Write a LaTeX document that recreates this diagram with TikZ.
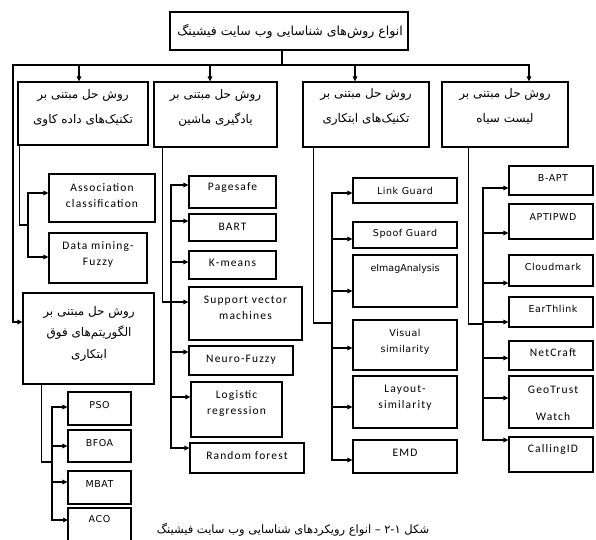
\documentclass[tikz,border=0pt]{standalone}
\usepackage{fontspec}
\setmainfont{DejaVu Sans}
\newfontfamily\arabicfont[Script=Arabic]{DejaVu Sans}
\newfontfamily\calfont[LetterSpace=10]{Carlito}
\newfontfamily\djfont[LetterSpace=6]{DejaVu Sans}
\TeXXeTstate=1
\usetikzlibrary{arrows.meta,fit}
\tikzset{
  box/.style={draw, line width=1.1pt, inner sep=0pt, fill=white},
  ln/.style={line width=1.2pt, line cap=rect},
  arr/.style={line width=1.2pt, -{Triangle[length=5pt,width=4.5pt]}},
  fa/.style={font=\arabicfont\fontsize{12}{25}\selectfont, align=center, inner sep=0pt},
  fae/.style={font=\arabicfont\fontsize{12}{21.5}\selectfont, align=center, inner sep=0pt},
  lt/.style={font=\calfont\fontsize{11.5}{16}\selectfont, align=center, inner sep=0pt},
  dj/.style={font=\djfont\fontsize{9.5}{16}\selectfont, align=center, inner sep=0pt}
}
\newcommand{\mybox}[5]{\node[box, fit={(#2,#3) (#4,#5)}] (#1) {};}
\begin{document}
\begin{tikzpicture}[x=1pt,y=-1pt]
\useasboundingbox (0,0) rectangle (596,539);
\clip (0,0) rectangle (596,539);
\fill[white] (0,0) rectangle (596,539);

% top
\mybox{top}{170}{12}{408}{50}
\node[fa, font=\arabicfont\fontsize{12.5}{14}\selectfont] (top-t) at (290,31) {\beginR انواع روش^^^^200cهای شناسایی وب سایت فیشینگ\endR};

% level 1
\mybox{A}{18}{82}{148}{145}
\mybox{B}{154}{82}{277}{147}
\mybox{C}{303}{82}{429}{147}
\mybox{D}{442}{82}{568}{147}
\mybox{E}{23}{293}{154}{384}
\node[fa] (A-t) at (83,107.5) {\beginR روش حل مبتنی بر\endR\\\beginR تکنیک^^^^200cهای داده کاوی\endR};
\node[fa] (B-t) at (215.5,107.5) {\beginR روش حل مبتنی بر\endR\\\beginR یادگیری ماشین\endR};
\node[fa] (C-t) at (366,106.5) {\beginR روش حل مبتنی بر\endR\\\beginR تکنیک^^^^200cهای ابتکاری\endR};
\node[fa] (D-t) at (505,106.5) {\beginR روش حل مبتنی بر\endR\\\beginR لیست سیاه\endR};
\node[fae] (E-t) at (89,333.5) {\beginR روش حل مبتنی بر\endR\\\beginR الگوریتم^^^^200cهای فوق\endR\\\beginR ابتکاری\endR};

% A children
\mybox{assoc}{49}{174}{155}{222}
\mybox{dmf}{49}{233}{147}{283}
\node[lt] (assoc-t) at (102,195.5) {Association\\classification};
\node[lt] (dmf-t) at (98,254) {Data mining-\\Fuzzy};

% B children
\mybox{pagesafe}{189}{176}{276}{208}
\mybox{bart}{189}{214}{276}{241}
\mybox{kmeans}{189}{251}{276}{279}
\mybox{svm}{189}{287}{302}{340}
\mybox{neuro}{189}{346}{293}{375}
\mybox{logistic}{191}{382}{282}{437}
\mybox{rf}{190}{443}{304}{473}
\node[lt] (pagesafe-t) at (232.5,188) {Pagesafe};
\node[lt] (bart-t) at (232.5,227) {BART};
\node[lt] (kmeans-t) at (232.5,263) {K-means};
\node[lt] (svm-t) at (245.5,308) {Support vector\\machines};
\node[lt] (neuro-t) at (241,360) {Neuro-Fuzzy};
\node[lt] (logistic-t) at (236.5,403.5) {Logistic\\regression};
\node[lt] (rf-t) at (247,456) {Random forest};

% C children
\mybox{linkg}{353}{178}{457}{203}
\mybox{spoof}{353}{222}{457}{248}
\mybox{eimag}{353}{255}{457}{307}
\mybox{visual}{353}{320}{457}{370}
\mybox{layout}{353}{376}{457}{428}
\mybox{emd}{353}{440}{457}{473}
\node[dj] (linkg-t) at (405,191) {Link Guard};
\node[dj] (spoof-t) at (405,234) {Spoof Guard};
\node[dj, font=\djfont\fontsize{9.5}{16}\selectfont\addfontfeature{LetterSpace=0}] (eimag-t) at (405,269) {eImagAnalysis};
\node[dj] (visual-t) at (405,341.5) {Visual\\similarity};
\node[lt] (layout-t) at (405,398) {Layout-\\similarity};
\node[lt] (emd-t) at (405,453) {EMD};

% D children
\mybox{bapt}{509}{166}{593}{195}
\mybox{aptipwd}{509}{204}{593}{239}
\mybox{cloud}{509}{255}{593}{286}
\mybox{earth}{509}{297}{593}{327}
\mybox{netcraft}{509}{341}{593}{370}
\mybox{geo}{509}{376}{593}{428}
\mybox{calling}{509}{437}{593}{472}
\node[dj] (bapt-t) at (553,178) {B-APT};
\node[dj] (aptipwd-t) at (553,217) {APTIPWD};
\node[dj] (cloud-t) at (553,267) {Cloudmark};
\node[dj] (earth-t) at (553,309) {EarThlink};
\node[lt] (netcraft-t) at (553,353) {NetCraft};
\node[lt, font=\calfont\fontsize{11.5}{27}\selectfont] (geo-t) at (553,403.5) {GeoTrust\\Watch};
\node[lt] (calling-t) at (553,449) {CallingID};

% E children
\mybox{pso}{68}{392}{131}{425}
\mybox{bfoa}{68}{430}{131}{462}
\mybox{mbat}{68}{471}{131}{504}
\mybox{aco}{68}{508}{131}{550}
\node[dj] (pso-t) at (99.5,405) {PSO};
\node[dj] (bfoa-t) at (99.5,443) {BFOA};
\node[dj] (mbat-t) at (99.5,484) {MBAT};
\node[dj] (aco-t) at (99.5,519) {ACO};

% caption
\node[font=\arabicfont\fontsize{11.5}{13}\selectfont, inner sep=0pt] (cap) at (293,530) {\beginR شکل \beginL ۲-۱\endL{} – انواع رویکردهای شناسایی وب سایت فیشینگ\endR};

% top connectors
\coordinate (barL) at (13,65);
\coordinate (barR) at (529,65);
\coordinate (tTop) at (282,65);
\coordinate (pA) at (79,65);
\coordinate (pB) at (210,65);
\coordinate (pC) at (355,65);
\draw[ln] (tTop |- top.south) -- (tTop);
\draw[ln] (barL) -- (barR);
\draw[arr] (pA) -- (pA |- A.north);
\draw[arr] (pB) -- (pB |- B.north);
\draw[arr] (pC) -- (pC |- C.north);
\draw[arr] (barR) -- (barR |- D.north);
\draw[arr] (barL) |- ([yshift=16.5pt]E.west);

% A connectors
\coordinate (jA) at (28,225);
\draw[ln] ([xshift=2pt]A.south west) |- (jA);
\draw[ln] ([yshift=5pt]assoc.west -| jA) -- ([yshift=1pt]dmf.west -| jA);
\draw[arr] ([yshift=5pt]assoc.west -| jA) -- ([yshift=5pt]assoc.west);
\draw[arr] ([yshift=1pt]dmf.west -| jA) -- ([yshift=1pt]dmf.west);

% B connectors
\coordinate (busB) at (171,0);
\coordinate (aPag) at ([yshift=7pt]pagesafe.west);
\coordinate (aBart) at ([yshift=6.5pt]bart.west);
\coordinate (aKm) at ([yshift=3pt]kmeans.west);
\coordinate (aSvm) at ([yshift=11.5pt]svm.west);
\coordinate (aNeu) at ([yshift=8.5pt]neuro.west);
\coordinate (aLog) at ([yshift=12.5pt]logistic.west);
\coordinate (aRf) at ([yshift=10pt]rf.west);
\draw[ln] (aPag -| busB) -- (aRf -| busB);
\draw[arr] ([xshift=9pt]B.south west) |- (aSvm);
\foreach \p in {aPag,aBart,aKm,aNeu,aLog,aRf}{\draw[arr] (\p -| busB) -- (\p);}

% C connectors
\coordinate (busC) at (332,0);
\coordinate (jC) at (332,323);
\coordinate (aLink) at ([yshift=-2.5pt]linkg.west);
\coordinate (aSpoof) at ([yshift=-4pt]spoof.west);
\coordinate (aEimag) at ([yshift=-10pt]eimag.west);
\coordinate (aVis) at ([yshift=-3pt]visual.west);
\coordinate (aLay) at ([yshift=-5pt]layout.west);
\coordinate (aEmd) at ([yshift=-3.5pt]emd.west);
\draw[ln] ([xshift=11pt]C.south west) |- (jC);
\draw[ln] (aLink -| busC) -- (aEmd -| busC);
\foreach \p in {aLink,aSpoof,aEimag,aVis,aLay,aEmd}{\draw[arr] (\p -| busC) -- (\p);}

% D connectors
\coordinate (busD) at (483,0);
\coordinate (jD) at (483,324);
\coordinate (aBapt) at ([yshift=-7.5pt]bapt.west);
\coordinate (aApt) at ([yshift=-11.5pt]aptipwd.west);
\coordinate (aCloud) at ([yshift=-12.5pt]cloud.west);
\coordinate (aEarth) at ([yshift=-10pt]earth.west);
\coordinate (aNet) at ([yshift=-2.5pt]netcraft.west);
\coordinate (aGeo) at ([yshift=4pt]geo.west);
\coordinate (aCall) at ([yshift=14.5pt]calling.west);
\draw[ln] ([xshift=27pt]D.south west) |- (jD);
\draw[ln] (aBapt -| busD) -- (aCall -| busD);
\foreach \p in {aBapt,aApt,aCloud,aEarth,aNet,aGeo,aCall}{\draw[arr] (\p -| busD) -- (\p);}

% E connectors
\coordinate (busE) at (52,0);
\coordinate (jE) at (52,462);
\coordinate (aPso) at ([yshift=1.5pt]pso.west);
\coordinate (aBfoa) at (bfoa.west);
\coordinate (aMbat) at ([yshift=5.5pt]mbat.west);
\coordinate (aAco) at (68,520);
\draw[ln] ([xshift=19pt]E.south west) |- (jE);
\draw[ln] (aPso -| busE) -- (aAco -| busE);
\foreach \p in {aPso,aBfoa,aMbat,aAco}{\draw[arr] (\p -| busE) -- (\p);}
\end{tikzpicture}
\end{document}
